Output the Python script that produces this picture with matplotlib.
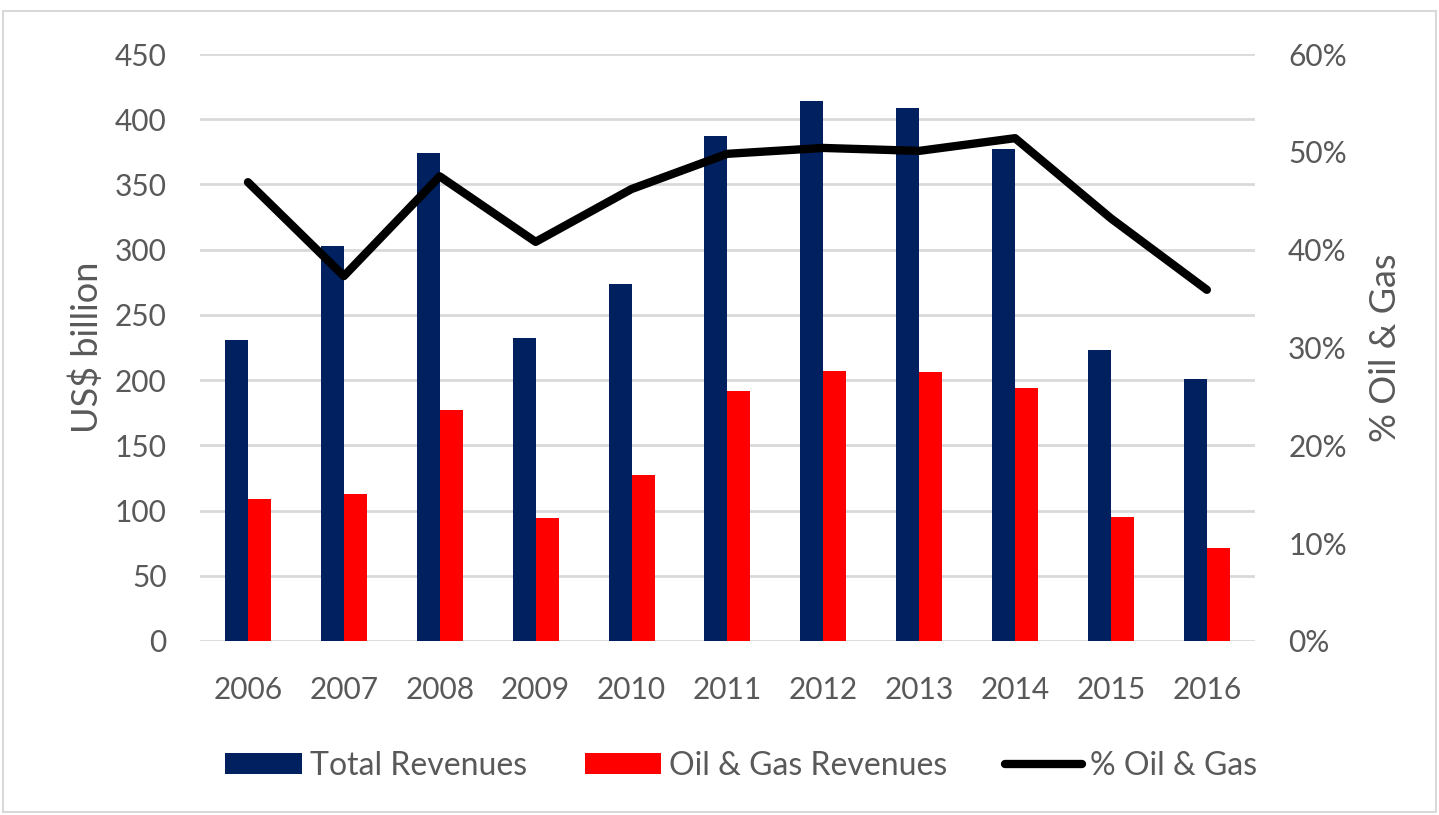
import matplotlib.pyplot as plt
import numpy as np
from matplotlib.patches import Rectangle

plt.rcParams['font.family'] = ['Lato', 'DejaVu Sans']

years = ['2006', '2007', '2008', '2009', '2010', '2011', '2012', '2013', '2014', '2015', '2016']
total_rev = [231, 303, 374, 232, 274, 387, 414, 409, 377, 223, 201]
oil_gas_rev = [109, 113, 177, 94, 127, 192, 207, 206, 194, 95, 71]
pct_oil_gas = [46.9, 37.3, 47.5, 40.8, 46.2, 49.8, 50.4, 50.1, 51.4, 43.2, 35.9]

grey = '#595959'
x = np.arange(len(years))
w = 0.24

fig = plt.figure(figsize=(14.39, 8.15), dpi=100)
ax = fig.add_axes([0.139, 0.2135, 0.733, 0.7202])

ax.bar(x - w / 2, total_rev, w, color='#002060', label='Total Revenues', zorder=3)
ax.bar(x + w / 2, oil_gas_rev, w, color='#FF0000', label='Oil & Gas Revenues', zorder=3)

ax.set_xlim(-0.5, len(years) - 0.5)
ax.set_ylim(0, 450)
ax.set_yticks(np.arange(0, 451, 50))
ax.grid(axis='y', color='#D9D9D9', linewidth=2, zorder=0)
ax.set_xticks(x)
ax.set_xticklabels(years)
ax.tick_params(length=0, labelsize=21.5, colors=grey)
ax.tick_params(axis='x', pad=25)
ax.tick_params(axis='y', pad=24)
for s in ax.spines.values():
    s.set_visible(False)
ax.set_ylabel('US$ billion', fontsize=26, color=grey, labelpad=8)

ax2 = ax.twinx()
ax2.plot(x, pct_oil_gas, color='black', linewidth=6, solid_capstyle='round',
         label='% Oil & Gas', zorder=4)
ax2.set_ylim(0, 60)
ax2.set_yticks(np.arange(0, 61, 10))
ax2.set_yticklabels([f'{v}%' for v in range(0, 61, 10)])
ax2.tick_params(length=0, labelsize=21.5, colors=grey, pad=24)
for s in ax2.spines.values():
    s.set_visible(False)
ax2.set_ylabel('% Oil & Gas', fontsize=26, color=grey, rotation=90, labelpad=16)

h1, l1 = ax.get_legend_handles_labels()
h2, l2 = ax2.get_legend_handles_labels()
fig.legend(h1 + h2, l1 + l2, loc='center', bbox_to_anchor=(0.515, 0.06), ncol=3,
           frameon=False, fontsize=23, handlelength=2.4, handleheight=0.63,
           columnspacing=1.8, handletextpad=0.25, labelcolor=grey)

fig.patches.append(Rectangle((0.002, 0.004), 0.996, 0.982, transform=fig.transFigure,
                             fill=False, edgecolor='#D9D9D9', linewidth=1.5))

fig.savefig('out.png', dpi=100)
